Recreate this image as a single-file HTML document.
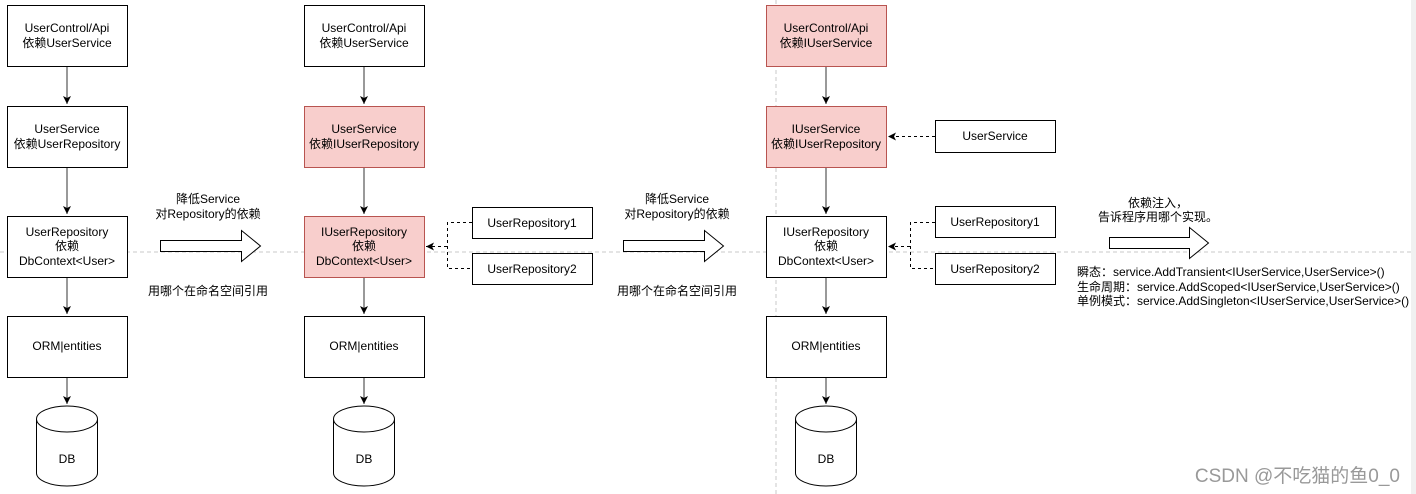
<!DOCTYPE html>
<html><head><meta charset="utf-8"><style>
html,body{margin:0;padding:0;background:#fff;}
svg{display:block;}
text{font-family:"Liberation Sans","Noto Sans CJK SC",sans-serif;font-size:12px;fill:#000;}
</style></head><body>
<svg width="1416" height="494" viewBox="0 0 1416 494" xmlns="http://www.w3.org/2000/svg">
<defs>
<marker id="ah" markerWidth="10" markerHeight="10" refX="8" refY="5" orient="auto" markerUnits="userSpaceOnUse">
<path d="M0,1 L8,5 L0,9 L2,5 Z" fill="#000"/>
</marker>
</defs>
<rect x="1411" y="0" width="5" height="494" fill="#f0f0f0"/>
<line x1="0" y1="252" x2="1411" y2="252" stroke="#c8c8c8" stroke-dasharray="4,3"/>
<line x1="776" y1="0" x2="776" y2="494" stroke="#c8c8c8" stroke-dasharray="4,3"/>

<g id="c1">
<line x1="67" y1="66" x2="67" y2="104" stroke="#333" marker-end="url(#ah)"/>
<line x1="67" y1="167" x2="67" y2="214" stroke="#333" marker-end="url(#ah)"/>
<line x1="67" y1="277" x2="67" y2="314" stroke="#333" marker-end="url(#ah)"/>
<line x1="67" y1="377" x2="67" y2="404" stroke="#333" marker-end="url(#ah)"/>
</g>
<use href="#c1" x="297"/>
<use href="#c1" x="759"/>

<rect x="7.5" y="5.5" width="120" height="61" fill="#fff" stroke="#000"/>
<text x="67" y="32" text-anchor="middle">UserControl/Api</text><text x="67" y="47" text-anchor="middle">依赖UserService</text>
<rect x="7.5" y="106.5" width="120" height="61" fill="#fff" stroke="#000"/>
<text x="67" y="133" text-anchor="middle">UserService</text><text x="67" y="148" text-anchor="middle">依赖UserRepository</text>
<rect x="7.5" y="216.5" width="120" height="61" fill="#fff" stroke="#000"/>
<text x="67" y="236" text-anchor="middle">UserRepository</text><text x="67" y="250" text-anchor="middle">依赖</text><text x="67" y="265" text-anchor="middle">DbContext&lt;User&gt;</text>
<rect x="7.5" y="316.5" width="120" height="61" fill="#fff" stroke="#000"/>
<text x="67" y="350" text-anchor="middle">ORM|entities</text>

<rect x="304.5" y="5.5" width="120" height="61" fill="#fff" stroke="#000"/>
<text x="364" y="32" text-anchor="middle">UserControl/Api</text><text x="364" y="47" text-anchor="middle">依赖UserService</text>
<rect x="304.5" y="106.5" width="120" height="61" fill="#f8cecc" stroke="#b85450"/>
<text x="364" y="133" text-anchor="middle">UserService</text><text x="364" y="148" text-anchor="middle">依赖IUserRepository</text>
<rect x="304.5" y="216.5" width="120" height="61" fill="#f8cecc" stroke="#b85450"/>
<text x="364" y="236" text-anchor="middle">IUserRepository</text><text x="364" y="250" text-anchor="middle">依赖</text><text x="364" y="265" text-anchor="middle">DbContext&lt;User&gt;</text>
<rect x="304.5" y="316.5" width="120" height="61" fill="#fff" stroke="#000"/>
<text x="364" y="350" text-anchor="middle">ORM|entities</text>

<rect x="766.5" y="5.5" width="120" height="61" fill="#f8cecc" stroke="#b85450"/>
<text x="826" y="32" text-anchor="middle">UserControl/Api</text><text x="826" y="47" text-anchor="middle">依赖IUserService</text>
<rect x="766.5" y="106.5" width="120" height="61" fill="#f8cecc" stroke="#b85450"/>
<text x="826" y="133" text-anchor="middle">IUserService</text><text x="826" y="148" text-anchor="middle">依赖IUserRepository</text>
<rect x="766.5" y="216.5" width="120" height="61" fill="#fff" stroke="#000"/>
<text x="826" y="236" text-anchor="middle">IUserRepository</text><text x="826" y="250" text-anchor="middle">依赖</text><text x="826" y="265" text-anchor="middle">DbContext&lt;User&gt;</text>
<rect x="766.5" y="316.5" width="120" height="61" fill="#fff" stroke="#000"/>
<text x="826" y="350" text-anchor="middle">ORM|entities</text>

<g id="db">
<path d="M36.5,419 L36.5,473 A30.5,13 0 0 0 97.5,473 L97.5,419 A30.5,13 0 0 0 36.5,419 Z" fill="#fff" stroke="#000"/>
<path d="M36.5,419 A30.5,13 0 0 0 97.5,419" fill="none" stroke="#000"/>
<text x="67" y="463" text-anchor="middle">DB</text>
</g>
<use href="#db" x="297"/>
<use href="#db" x="759"/>

<rect x="472.5" y="207.5" width="120" height="31" fill="#fff" stroke="#000"/>
<text x="532" y="227" text-anchor="middle">UserRepository1</text>
<rect x="472.5" y="253.5" width="120" height="31" fill="#fff" stroke="#000"/>
<text x="532" y="273" text-anchor="middle">UserRepository2</text>
<path d="M472,222.5 H447.5 V268.5 H472" fill="none" stroke="#000" stroke-dasharray="3,3"/>
<line x1="447" y1="246.5" x2="426" y2="246.5" stroke="#000" stroke-dasharray="3,3" marker-end="url(#ah)"/>

<rect x="935.5" y="120.5" width="120" height="32" fill="#fff" stroke="#000"/>
<text x="995" y="140" text-anchor="middle">UserService</text>
<line x1="935" y1="136.5" x2="888" y2="136.5" stroke="#000" stroke-dasharray="3,3" marker-end="url(#ah)"/>
<rect x="935.5" y="206.5" width="120" height="31" fill="#fff" stroke="#000"/>
<text x="995" y="226" text-anchor="middle">UserRepository1</text>
<rect x="935.5" y="253.5" width="120" height="31" fill="#fff" stroke="#000"/>
<text x="995" y="273" text-anchor="middle">UserRepository2</text>
<path d="M935,222.5 H910.5 V268.5 H935" fill="none" stroke="#000" stroke-dasharray="3,3"/>
<line x1="910" y1="246.5" x2="888" y2="246.5" stroke="#000" stroke-dasharray="3,3" marker-end="url(#ah)"/>

<path d="M160.5,240.5 H241.5 V230.5 L260.5,246 L241.5,261.5 V251.5 H160.5 Z" fill="#fff" stroke="#000"/>
<path d="M623.5,240.5 H704.5 V230.5 L723.5,246 L704.5,261.5 V251.5 H623.5 Z" fill="#fff" stroke="#000"/>
<path d="M1109.5,237.5 H1189.5 V227.5 L1208.5,243 L1189.5,258.5 V248.5 H1109.5 Z" fill="#fff" stroke="#000"/>

<text x="208" y="203" text-anchor="middle">降低Service</text>
<text x="208" y="218" text-anchor="middle">对Repository的依赖</text>
<text x="208" y="295" text-anchor="middle">用哪个在命名空间引用</text>
<text x="677" y="203" text-anchor="middle">降低Service</text>
<text x="677" y="218" text-anchor="middle">对Repository的依赖</text>
<text x="677" y="295" text-anchor="middle">用哪个在命名空间引用</text>
<text x="1158" y="207" text-anchor="middle">依赖注入，</text>
<text x="1158" y="221" text-anchor="middle">告诉程序用哪个实现。</text>
<text x="1077" y="276">瞬态：service.AddTransient&lt;IUserService,UserService&gt;()</text>
<text x="1077" y="291">生命周期：service.AddScoped&lt;IUserService,UserService&gt;()</text>
<text x="1077" y="305">单例模式：service.AddSingleton&lt;IUserService,UserService&gt;()</text>

<text x="1400" y="482" text-anchor="end" style="font-size:19px;fill:#999;">CSDN @不吃猫的鱼0_0</text>
</svg>
</body></html>
